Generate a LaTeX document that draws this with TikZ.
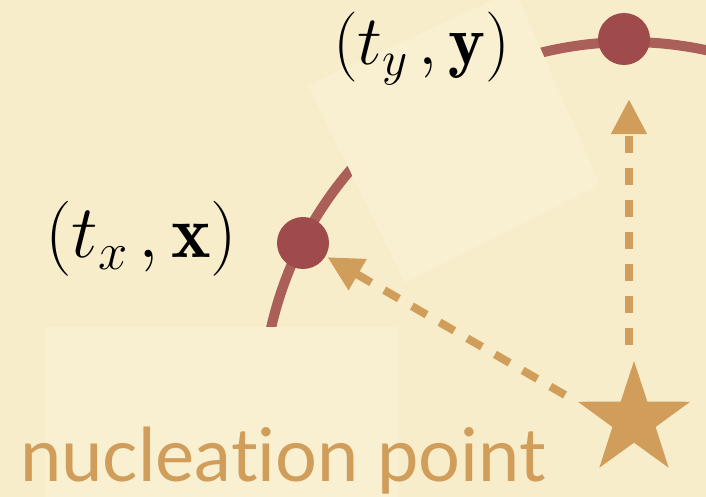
\RequirePackage{fix-cm}
\documentclass[tikz,border=0pt]{standalone}
\usepackage{amsmath}
\usepackage{fontspec}
\newfontfamily\captionfont[Ligatures=NoCommon]{Lato}
\usetikzlibrary{arrows.meta,shapes.geometric}
\definecolor{paper}{HTML}{F8EDCB}
\definecolor{patch}{HTML}{F9F0D1}
\definecolor{sand}{HTML}{D09E5A}
\definecolor{brick}{HTML}{AA6058}
\definecolor{dotred}{HTML}{A04B4B}

\begin{document}
\begin{tikzpicture}[x=1pt,y=1pt,
    flow/.style={sand, line width=8pt, dash pattern=on 17pt off 15pt, -{Triangle[length=35pt,width=34pt]}},
    event/.style={circle, fill=dotred, minimum size=52pt, inner sep=0pt}]
    \fill[paper] (0,0) rectangle (706,497);
    \clip (0,0) rectangle (706,497);
    % light front from the nucleation point
    \draw[brick, line width=10pt] (629,88) ++(172:367) arc (172:70:367);
    % lighter paper patches
    \fill[patch] (45,0) rectangle (398,170);
    \fill[patch] (308,412) -- (515,507) -- (600,312) -- (405,214) -- cycle;
    \node[star, star points=5, star point ratio=2.6, minimum size=118pt, inner sep=0pt, fill=sand] (nuc) at (634,77) {};
    \node[event] (xev) at (303,254) {};
    \node[event] (yev) at (624,458) {};
    \node[anchor=base west, inner sep=0pt, font=\fontsize{75}{80}\selectfont] (xlab) at (45,239) {$(t_x\mkern2.5mu,\mathbf{x})$};
    \node[anchor=base west, inner sep=0pt, font=\fontsize{70}{74}\selectfont] (ylab) at (333,432) {$(t_y\mkern2.5mu,\mathbf{y})$};
    \node[anchor=base west, inner sep=0pt, text=sand, font=\captionfont\fontsize{74}{80}\selectfont] (nuclab) at (20,15) {nucleation point};
    \coordinate (xtail) at (565,102);
    \coordinate (ytail) at (629,152);
    \draw[flow, shorten >=2pt] (xtail) -- (xev);
    \draw[flow, shorten >=34pt] (ytail) -- (ytail |- yev.south);
\end{tikzpicture}
\end{document}
